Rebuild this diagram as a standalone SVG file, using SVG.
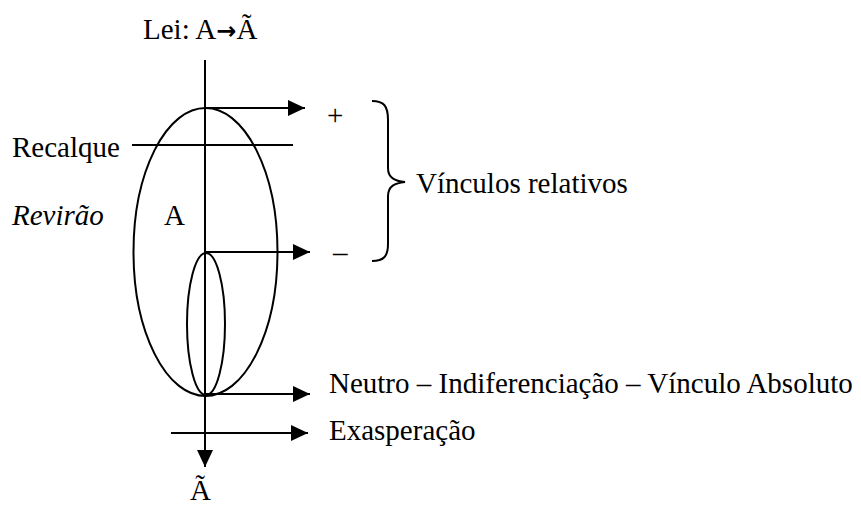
<svg xmlns="http://www.w3.org/2000/svg" width="861" height="507" viewBox="0 0 861 507">
<defs>
<style>
.t{font-family:"Liberation Serif","Times New Roman",serif;font-size:29px;fill:#000}
.ln{stroke:#000;stroke-width:2;fill:none}
</style>
<marker id="ah" viewBox="0 0 17 16" refX="17" refY="8" markerWidth="17" markerHeight="16" markerUnits="userSpaceOnUse" orient="auto">
<path d="M0,0 L17,8 L0,16 Z" fill="#000"/>
</marker>
</defs>
<rect width="861" height="507" fill="#fff"/>
<g id="connectors">
<line class="ln" x1="205" y1="60" x2="205" y2="467" marker-end="url(#ah)"/>
<line class="ln" x1="205" y1="108" x2="305" y2="108" marker-end="url(#ah)"/>
<line class="ln" x1="206" y1="252" x2="310" y2="252" marker-end="url(#ah)"/>
<line class="ln" x1="206" y1="394" x2="310" y2="394" marker-end="url(#ah)"/>
<line class="ln" x1="171" y1="433" x2="308" y2="433" marker-end="url(#ah)"/>
<line class="ln" x1="132" y1="145" x2="293" y2="145"/>
</g>
<g id="big-ellipse"><ellipse class="ln" cx="205.5" cy="252" rx="72" ry="144"/></g>
<g id="small-ellipse"><ellipse class="ln" cx="206" cy="324" rx="19" ry="71"/></g>
<g id="brace"><path class="ln" d="M372,101 C384,101 388,106 388,120 L388,168 C388,178 395,181 405,182 C395,183 388,186 388,196 L388,244 C388,256 384,261 372,261"/></g>
<g id="labels">
<text class="t" x="143" y="39">Lei: A<tspan font-family="DejaVu Sans" font-weight="bold" font-size="24">→</tspan>Ã</text>
<text class="t" x="327" y="125">+</text>
<text class="t" x="12" y="157">Recalque</text>
<text class="t" x="12" y="225" font-style="italic">Revirão</text>
<text class="t" x="164" y="225">A</text>
<text class="t" x="333" y="262">–</text>
<text class="t" x="416" y="193">Vínculos relativos</text>
<text class="t" x="329" y="393">Neutro – Indiferenciação – Vínculo Absoluto</text>
<text class="t" x="329" y="440">Exasperação</text>
<text class="t" x="190" y="500">Ã</text>
</g>
</svg>
